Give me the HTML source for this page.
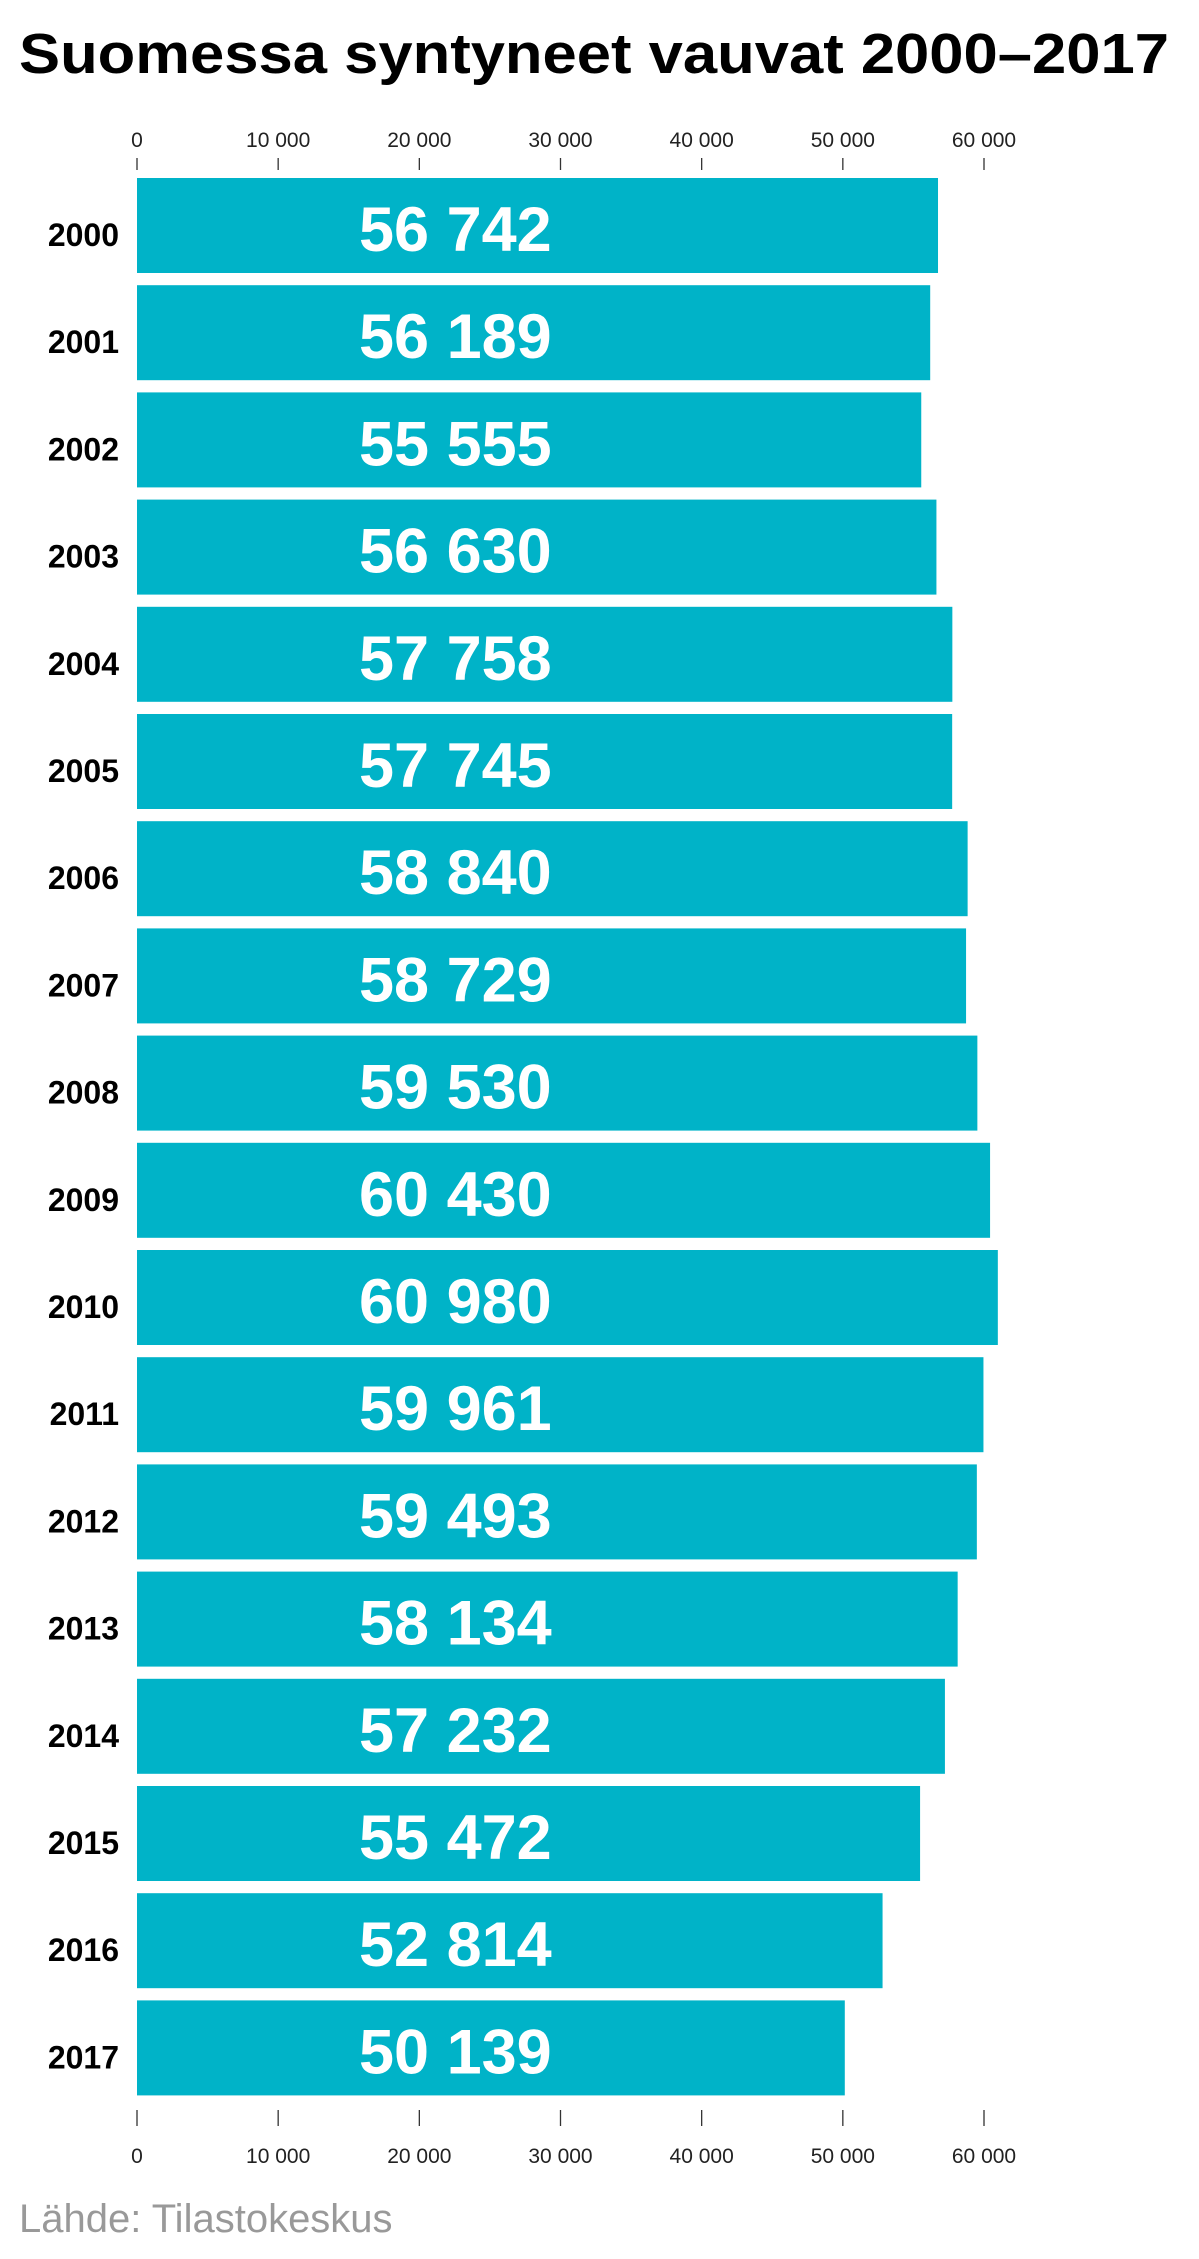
<!DOCTYPE html>
<html><head><meta charset="utf-8"><style>
html,body{margin:0;padding:0;background:#fff;}
svg{display:block;font-family:"Liberation Sans",sans-serif;}
</style></head><body>
<svg id="chart" width="1199" height="2259" viewBox="0 0 1199 2259" xmlns="http://www.w3.org/2000/svg">
<text x="19" y="73" font-size="57" font-weight="bold" fill="#000" textLength="1150" lengthAdjust="spacingAndGlyphs">Suomessa syntyneet vauvat 2000–2017</text>
<g id="axes"></g>
<g id="bars"></g>
<text x="19" y="2232" font-size="40" fill="#999">Lähde: Tilastokeskus</text>
</svg>
<script>
const categories = ["2000","2001","2002","2003","2004","2005","2006","2007","2008","2009","2010","2011","2012","2013","2014","2015","2016","2017"];
const values = [56742,56189,55555,56630,57758,57745,58840,58729,59530,60430,60980,59961,59493,58134,57232,55472,52814,50139];
const valueLabels = ["56 742","56 189","55 555","56 630","57 758","57 745","58 840","58 729","59 530","60 430","60 980","59 961","59 493","58 134","57 232","55 472","52 814","50 139"];
const tickValues = [0,10000,20000,30000,40000,50000,60000];
const tickLabels = ["0","10 000","20 000","30 000","40 000","50 000","60 000"];

const NS = "http://www.w3.org/2000/svg";
const x = v => 137 + v * (847 / 60000);
const y = i => 178 + i * 107.2;
const BH = 95;
function mk(tag, attrs, parent, txt) {
  const e = document.createElementNS(NS, tag);
  for (const k in attrs) e.setAttribute(k, attrs[k]);
  if (txt !== undefined) e.textContent = txt;
  parent.appendChild(e);
  return e;
}
const axes = document.getElementById('axes');
const bars = document.getElementById('bars');
tickValues.forEach((t, i) => {
  const tx = x(t);
  const a = mk('line', {x1: tx, x2: tx, y1: 158, y2: 170, stroke: '#333', 'stroke-width': 1.3}, axes);
  
  
  const b = mk('text', {x: tx, y: 147, 'text-anchor': 'middle', 'font-size': 21, fill: '#222'}, axes, tickLabels[i]);
  
  
  const c = mk('line', {x1: tx, x2: tx, y1: 2110, y2: 2126, stroke: '#333', 'stroke-width': 1.3}, axes);
  
  
  const d = mk('text', {x: tx, y: 2163, 'text-anchor': 'middle', 'font-size': 21, fill: '#222'}, axes, tickLabels[i]);
  
  
});
categories.forEach((c, i) => {
  const top = y(i);
  const r = mk('rect', {x: x(0), y: top, width: x(values[i]) - x(0), height: BH, fill: '#00b3c8'}, bars);
  
  
  const yl = mk('text', {x: 119, y: top + 68, 'text-anchor': 'end', 'font-size': 32, 'font-weight': 'bold', fill: '#000'}, bars, c);
  
  
  const vl = mk('text', {x: 359, y: top + 73, 'font-size': 63, 'font-weight': 'bold', fill: '#fff'}, bars, valueLabels[i]);
  
  
});
</script>
</body></html>
